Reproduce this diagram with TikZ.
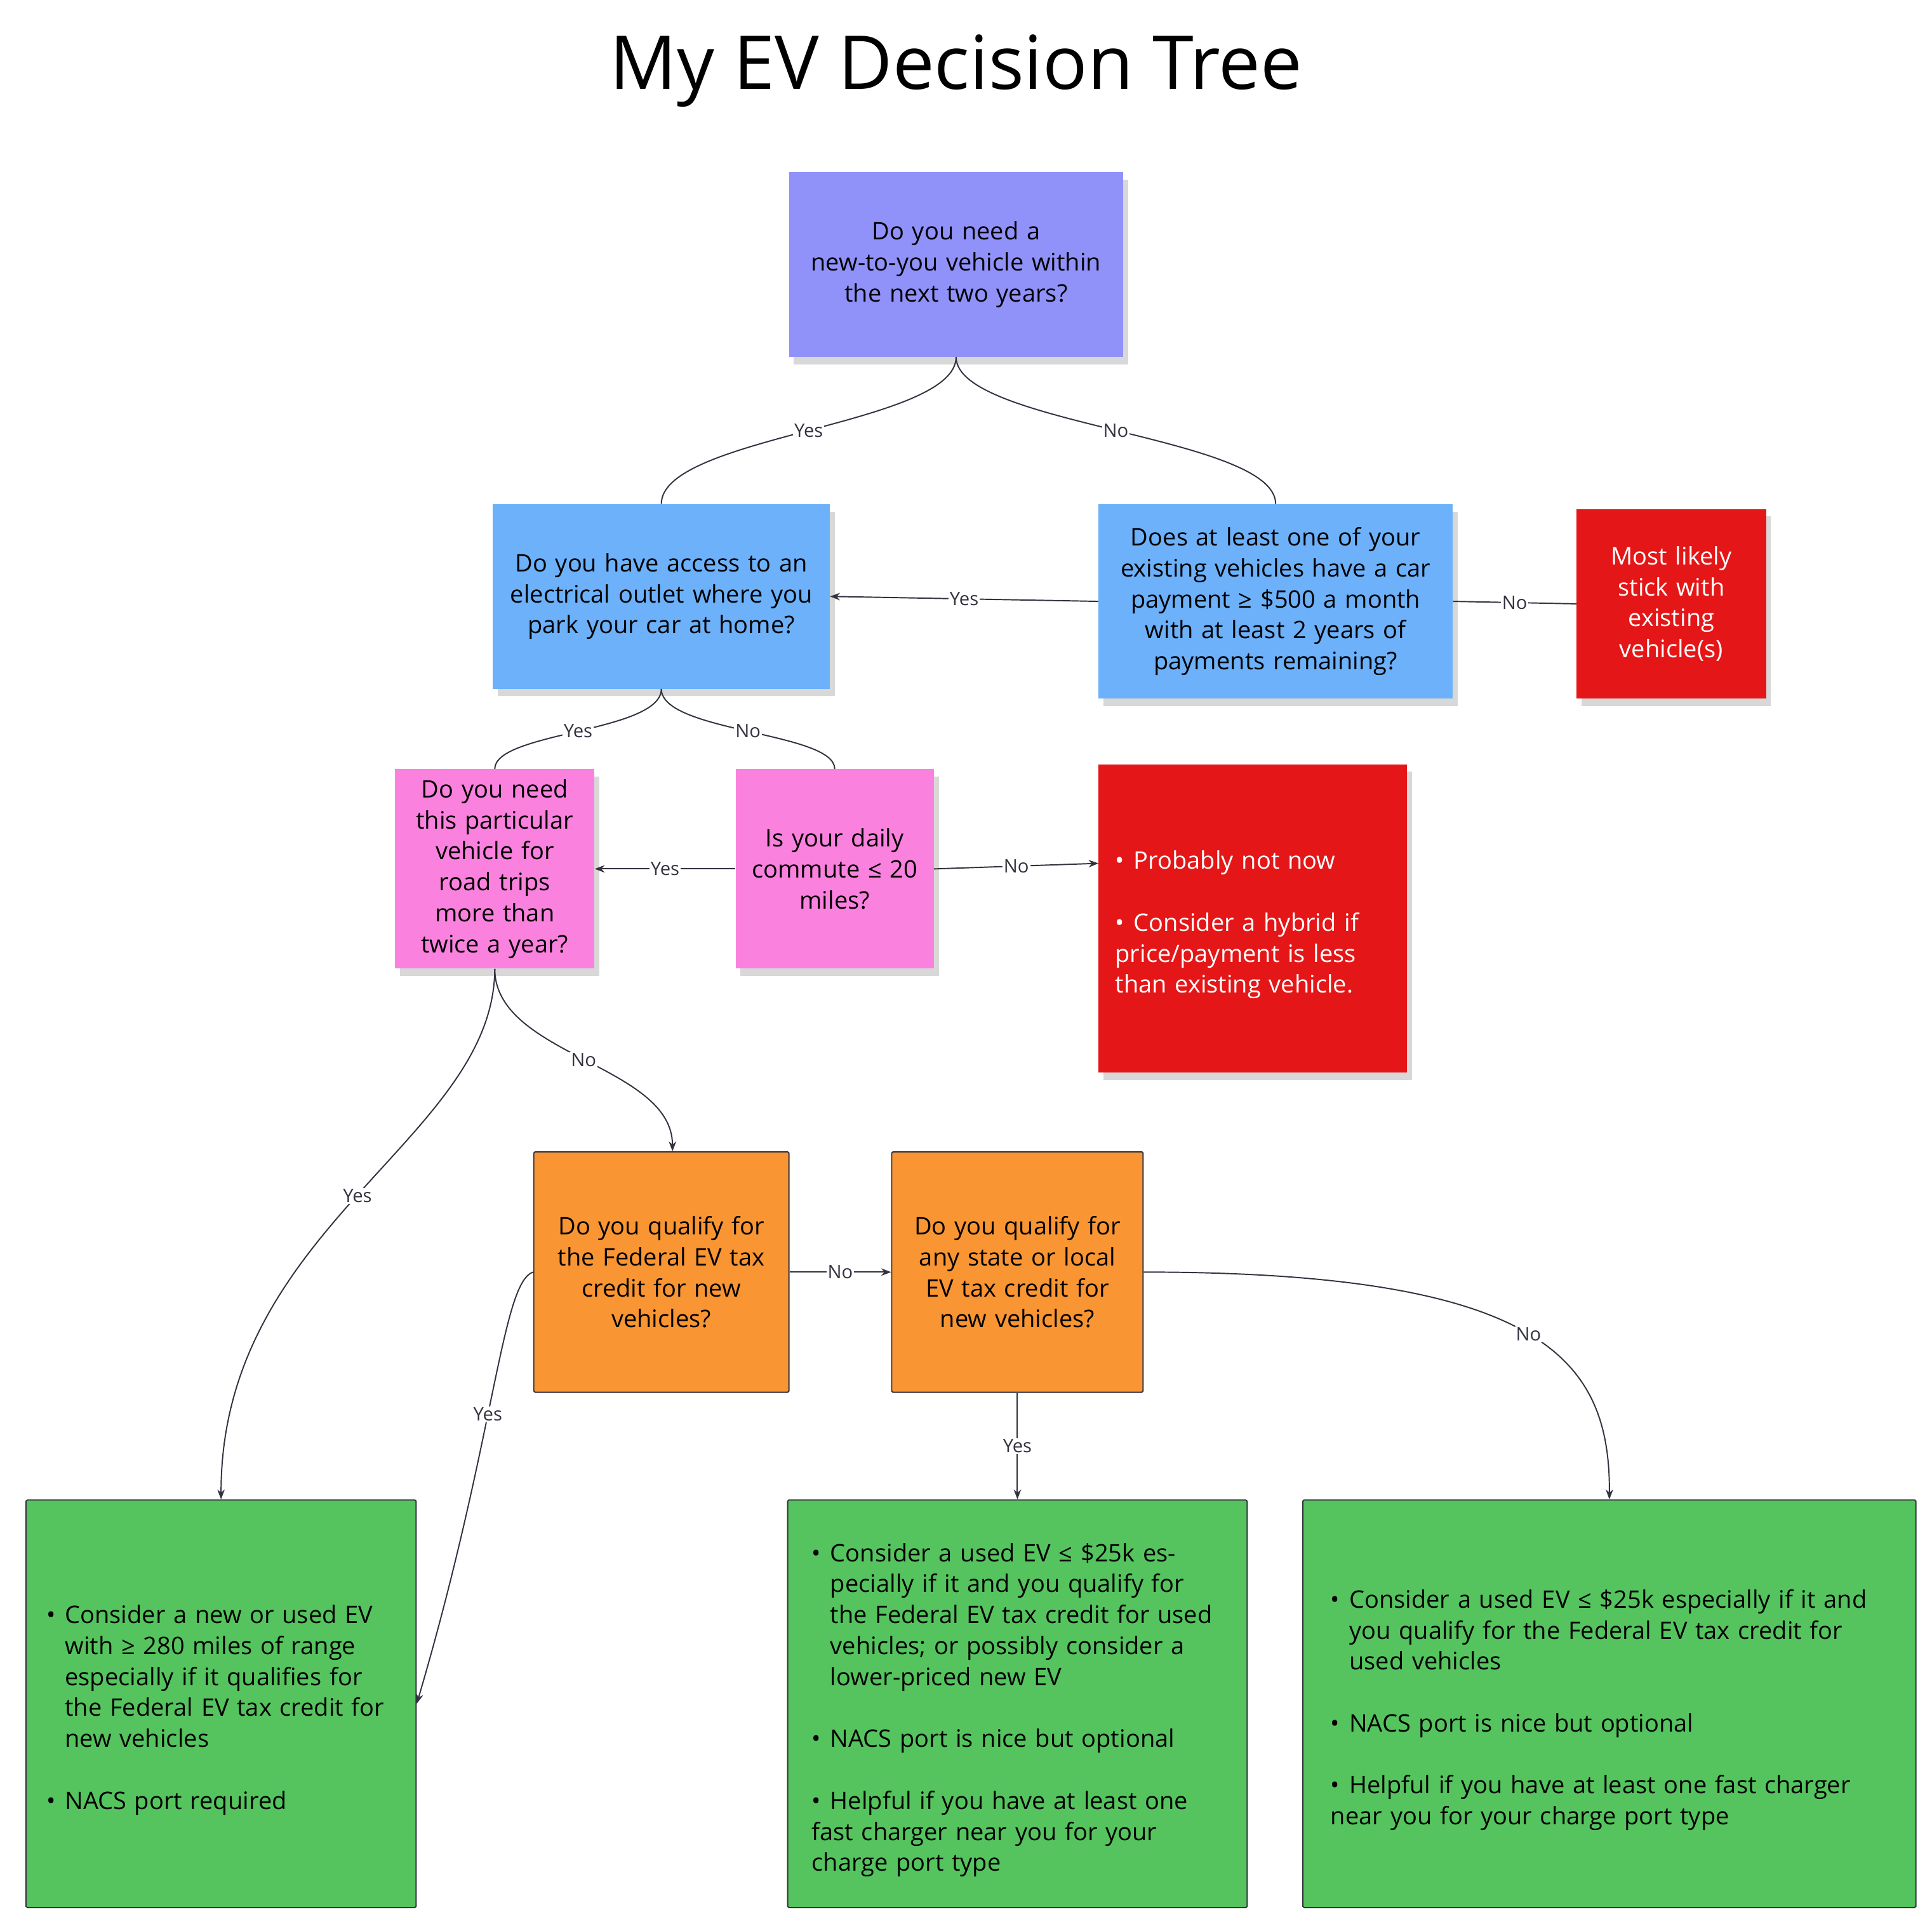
\documentclass[tikz,border=0pt]{standalone}
\usepackage{fontspec}
\setmainfont{Open Sans}
\usetikzlibrary{arrows.meta,shadows}
\definecolor{purp}{HTML}{9191FA}
\definecolor{blu}{HTML}{6CB1FA}
\definecolor{pnk}{HTML}{FA82DE}
\definecolor{rd}{HTML}{E51617}
\definecolor{org}{HTML}{F99532}
\definecolor{grn}{HTML}{55C45E}
\definecolor{ln}{HTML}{333340}
\newcommand\bul[1]{\par\hangindent=15pt\hangafter=1\noindent\makebox[15pt][l]{\textbullet}#1}
\begin{document}
\begin{tikzpicture}[x=1pt,y=-1pt,
 base/.style={inner sep=0pt, font=\fontsize{19.5}{25}\selectfont, align=center},
 sticky/.style={base, drop shadow={opacity=0.3, shadow xshift=4pt, shadow yshift=-6pt}},
 card/.style={base, draw=ln, line width=1pt, rounded corners=1pt},
 con/.style={draw=ln, line width=1pt},
 arr/.style={con, -{Stealth[length=8pt,width=6pt]}},
 lab/.style={fill=white, inner sep=1pt, font=\fontsize{15}{18}\selectfont, text=ln}]
\useasboundingbox (0,0) rectangle (1560,1553);
\fill[white] (0,0) rectangle (1560,1553);
\node[font=\fontsize{60}{70}\selectfont] (title) at (772,57) {My EV Decision Tree};

\node[sticky, fill=purp, minimum width=270pt, minimum height=149pt, text width=260pt] (q1) at (772,213.5) {Do you need a\\new-to-you vehicle within\\the next two years?};
\node[sticky, fill=blu, minimum width=272pt, minimum height=149pt, text width=262pt] (q2) at (534,481.5) {Do you have access to an\\electrical outlet where you\\park your car at home?};
\node[sticky, fill=blu, minimum width=286pt, minimum height=157pt, text width=276pt] (q3) at (1030,485.5) {Does at least one of your\\existing vehicles have a car\\payment ≥ \$500 a month\\with at least 2 years of\\payments remaining?};
\node[sticky, fill=rd, text=white, minimum width=153pt, minimum height=153pt, text width=145pt] (r1) at (1349.5,487.5) {Most likely\\stick with\\existing\\vehicle(s)};
\node[sticky, fill=pnk, minimum width=161pt, minimum height=161pt, text width=155pt] (p1) at (399.5,701.5) {Do you need\\this particular\\vehicle for\\road trips\\more than\\twice a year?};
\node[sticky, fill=pnk, minimum width=160pt, minimum height=161pt, text width=155pt] (p2) at (674,701.5) {Is your daily\\commute ≤ 20\\miles?};
\node[sticky, fill=rd, text=white, minimum width=249pt, minimum height=249pt, text width=222pt, align=left] (r2) at (1011.5,741.5) {\bul{Probably not now}\par\vspace{25pt}\bul{Consider a hybrid if price/payment is less than existing vehicle.}};
\node[card, fill=org, minimum width=206pt, minimum height=194pt, text width=196pt] (o1) at (534,1027) {Do you qualify for\\the Federal EV tax\\credit for new\\vehicles?};
\node[card, fill=org, minimum width=203pt, minimum height=194pt, text width=196pt] (o2) at (821.5,1027) {Do you qualify for\\any state or local\\EV tax credit for\\new vehicles?};
\node[card, fill=grn, minimum width=315pt, minimum height=329pt, text width=282pt, align=left] (g1) at (178.5,1375.5) {\bul{Consider a new or used EV with ≥ 280 miles of range especially if it qualifies for the Federal EV tax credit for new vehicles}\par\vspace{25pt}\bul{NACS port required}};
\node[card, fill=grn, minimum width=371pt, minimum height=329pt, text width=332pt, align=left] (g2) at (821.5,1375.5) {\bul{Consider a used EV ≤ \$25k especially if it and you qualify for the Federal EV tax credit for used vehicles; or possibly consider a lower-priced new EV}\par\vspace{25pt}\bul{NACS port is nice but optional}\par\vspace{25pt}\bul{Helpful if you have at least one fast charger near you for your charge port type}};
\node[card, fill=grn, minimum width=495pt, minimum height=329pt, text width=450pt, align=left] (g3) at (1299.5,1375.5) {\bul{Consider a used EV ≤ \$25k especially if it and you qualify for the Federal EV tax credit for used vehicles}\par\vspace{25pt}\bul{NACS port is nice but optional}\par\vspace{25pt}\bul{Helpful if you have at least one fast charger near you for your charge port type}};

\draw[con] (q1.south) .. controls +(0,55) and +(0,-55) .. node[lab]{Yes} (q2.north);
\draw[con] (q1.south) .. controls +(0,55) and +(0,-55) .. node[lab]{No} (q3.north);
\draw[arr] (q3.west) -- node[lab]{Yes} (q2.east);
\draw[con] (q3.east) -- node[lab]{No} (r1.west);
\draw[con] (q2.south) .. controls +(0,35) and +(0,-30) .. node[lab]{Yes} (p1.north);
\draw[con] (q2.south) .. controls +(0,35) and +(0,-30) .. node[lab]{No} (p2.north);
\draw[arr] (p2.west) -- node[lab]{Yes} (p1.east);
\draw[arr] (p2.east) -- node[lab]{No} (887,697);
\draw[arr] (p1.south) .. controls +(0,70) and +(0,-70) .. node[lab]{No} (o1.north -| 543,0);
\draw[arr] (p1.south) .. controls (399,920) and (178,990) .. node[lab]{Yes} (g1.north);
\draw[arr] (o1.west) .. controls (405,1035) and (400,1160) .. node[lab, pos=0.55]{Yes} (g1.east);
\draw[arr] (o1.east) -- node[lab]{No} (o2.west);
\draw[arr] (o2.south) -- node[lab]{Yes} (g2.north);
\draw[arr] (o2.east) .. controls (1250,1027) and (1300,1100) .. node[lab, pos=0.5]{No} (g3.north);
\end{tikzpicture}
\end{document}
